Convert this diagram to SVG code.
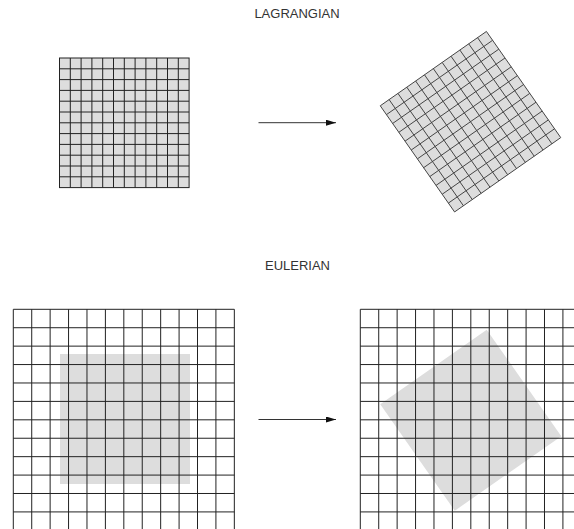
<svg xmlns="http://www.w3.org/2000/svg" xmlns:xlink="http://www.w3.org/1999/xlink" width="574" height="529" viewBox="0 0 574 529">
<style>
.title{font-family:"Liberation Sans",Arial,sans-serif;font-size:13px;fill:#333;text-anchor:middle}
.lg{fill:#dddddd;stroke:#222;stroke-width:1}
.lgr{fill:#dddddd;stroke:#444;stroke-width:0.9}
.eg{fill:none;stroke:#222;stroke-width:1}
.shade{fill:#dddddd;stroke:none}
.conn{stroke:#333;stroke-width:1;fill:none}
</style>
<defs>
<marker id="ah" markerWidth="10" markerHeight="6" refX="10" refY="3" orient="auto" markerUnits="userSpaceOnUse">
<path d="M0,0 L10,3 L0,6 Z" fill="#111"/>
</marker>
<g id="lgrid">
<rect x="-64.8" y="-64.8" width="129.6" height="129.6"/>
<path d="M-54,-64.8V64.8M-43.2,-64.8V64.8M-32.4,-64.8V64.8M-21.6,-64.8V64.8M-10.8,-64.8V64.8M0,-64.8V64.8M10.8,-64.8V64.8M21.6,-64.8V64.8M32.4,-64.8V64.8M43.2,-64.8V64.8M54,-64.8V64.8M-64.8,-54H64.8M-64.8,-43.2H64.8M-64.8,-32.4H64.8M-64.8,-21.6H64.8M-64.8,-10.8H64.8M-64.8,0H64.8M-64.8,10.8H64.8M-64.8,21.6H64.8M-64.8,32.4H64.8M-64.8,43.2H64.8M-64.8,54H64.8" fill="none"/>
</g>
<path id="egrid" d="M0,0V221M18.42,0V221M36.84,0V221M55.26,0V221M73.68,0V221M92.1,0V221M110.52,0V221M128.94,0V221M147.36,0V221M165.78,0V221M184.2,0V221M202.62,0V221M221.04,0V221M0,0H221.04M0,18.42H221.04M0,36.84H221.04M0,55.26H221.04M0,73.68H221.04M0,92.1H221.04M0,110.52H221.04M0,128.94H221.04M0,147.36H221.04M0,165.78H221.04M0,184.2H221.04M0,202.62H221.04M0,221.04H221.04"/>
</defs>
<rect width="574" height="529" fill="#fff"/>
<text class="title" x="297" y="17.5">LAGRANGIAN</text>
<text class="title" x="297.5" y="269.5">EULERIAN</text>
<g id="lagrangian-before" class="lg">
<use xlink:href="#lgrid" transform="translate(124.3,122.8)"/>
</g>
<g id="lagrangian-after" class="lgr">
<use xlink:href="#lgrid" transform="translate(470.5,121.7) rotate(-35)"/>
</g>
<g id="eulerian-before">
<rect class="shade" x="60" y="354" width="130" height="130"/>
<use xlink:href="#egrid" class="eg" transform="translate(13.3,309.3)"/>
</g>
<g id="eulerian-after">
<rect class="shade" x="-65" y="-65" width="130" height="130" transform="translate(470.75,420.2) rotate(-35)"/>
<use xlink:href="#egrid" class="eg" transform="translate(360.3,309.3)"/>
</g>
<g id="connectors">
<line class="conn" x1="258.5" y1="122.7" x2="336" y2="122.7" marker-end="url(#ah)"/>
<line class="conn" x1="258.5" y1="419.5" x2="336" y2="419.5" marker-end="url(#ah)"/>
</g>
</svg>
